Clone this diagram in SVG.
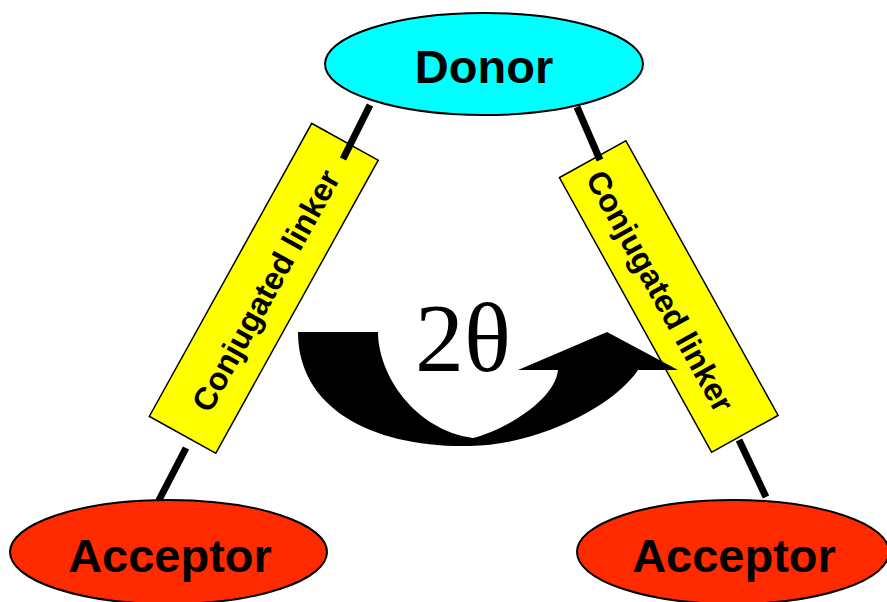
<svg xmlns="http://www.w3.org/2000/svg" width="887" height="602" viewBox="0 0 887 602">
<style>
.lbl{font-family:"Liberation Sans",Arial,sans-serif;font-weight:bold;fill:#000}
.big{font-size:47px;text-anchor:middle}
.lk{font-size:32px;text-anchor:middle}
.link{fill:#FFFF00;stroke:#000;stroke-width:1.5}
.conn{stroke:#000;stroke-width:7;fill:none}
.node{stroke:#000;stroke-width:2}
</style>
<rect width="887" height="602" fill="#fff"/>
<g id="linker-left" transform="translate(263.75,288.3) rotate(-61)">
<rect class="link" x="-167.5" y="-38" width="335" height="76"/>
<text class="lbl lk" x="-1" y="14">Conjugated linker</text>
</g>
<g id="linker-right" transform="translate(668.75,296.5) rotate(61)">
<rect class="link" x="-157" y="-38" width="314" height="76"/>
<text class="lbl lk" x="-9" y="16">Conjugated linker</text>
</g>
<g id="connectors">
<line class="conn" x1="370" y1="105" x2="343" y2="159"/>
<line class="conn" x1="186" y1="448" x2="158" y2="502"/>
<line class="conn" x1="577" y1="107" x2="600" y2="160"/>
<line class="conn" x1="739" y1="440" x2="766" y2="497"/>
</g>
<g id="donor">
<ellipse class="node" cx="484" cy="64" rx="159" ry="51" fill="#00FFFF"/>
<text class="lbl big" x="484" y="83">Donor</text>
</g>
<g id="acceptor-left">
<ellipse class="node" cx="168.5" cy="552" rx="158.5" ry="52" fill="#FF2A00"/>
<text class="lbl big" x="170" y="572">Acceptor</text>
</g>
<g id="acceptor-right">
<ellipse class="node" cx="733" cy="552" rx="156" ry="52" fill="#FF2A00"/>
<text class="lbl big" x="734" y="572">Acceptor</text>
</g>
<g id="angle-arrow">
<path fill="#000" d="M298,332 L378,332 C378,375 415,430 473,438 C505,430 555,400 558,370 L518,370 L607,332 L678,370 L638,370 C615,405 540,445 470,446 C375,448 298,410 298,332 Z"/>
<text x="463" y="371" font-family="'Liberation Serif','Times New Roman',serif" font-size="98" text-anchor="middle" fill="#000">2θ</text>
</g>
</svg>
